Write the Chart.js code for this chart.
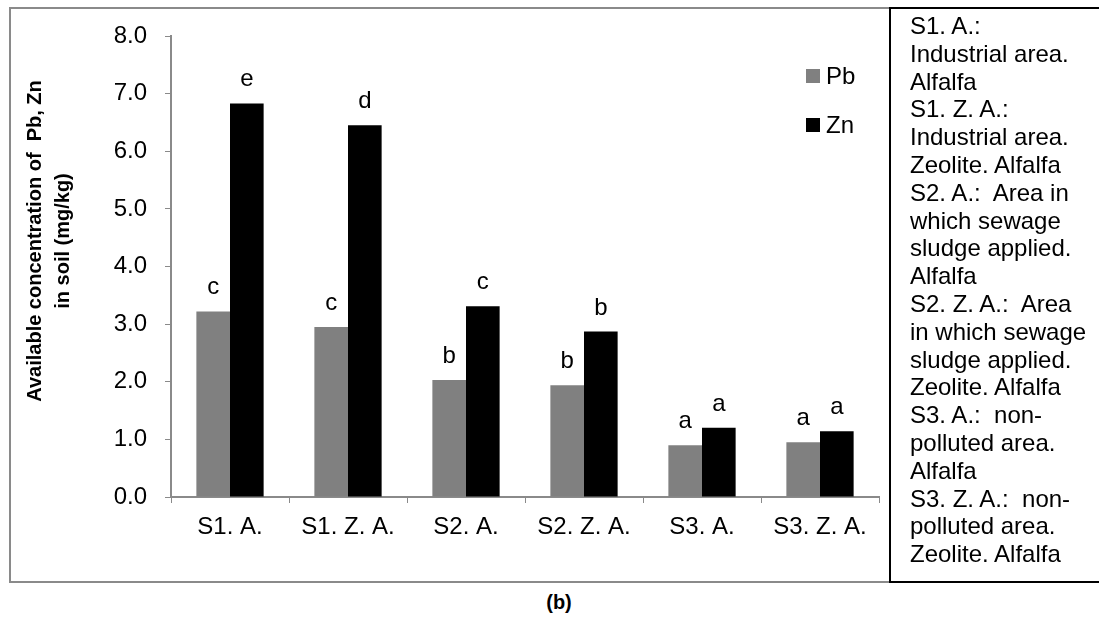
<!DOCTYPE html>
<html>
<head>
<meta charset="utf-8">
<title>Available Pb, Zn in soil</title>
<script src="https://cdn.jsdelivr.net/npm/chart.js@4.4.1/dist/chart.umd.min.js"></script>
<style>
  body { margin: 0; background: #fff; width: 1099px; height: 617px; overflow: hidden; position: relative;
         font-family: "Liberation Sans", Arial, sans-serif; color: #000; }
  #frame { position: absolute; left: 9px; top: 7px; width: 879px; height: 572px;
           border: 2px solid #8a8a8a; border-right: none; }
  #wrap { position: absolute; left: 0; top: 0; width: 890px; height: 583px; }
  #notes { position: absolute; left: 889px; top: 7px; right: 0; height: 576px; box-sizing: border-box;
           border: 2px solid #000; border-right: none; padding: 3px 0 0 19px;
           font-size: 24px; line-height: 27.8px; white-space: nowrap; }
  #cap { position: absolute; left: 559px; top: 592px; transform: translateX(-50%);
         font-size: 20px; line-height: 20px; font-weight: bold; }
</style>
</head>
<body>
<div id="frame"></div>
<div id="wrap"><canvas id="chart" width="890" height="583"></canvas></div>
<div id="notes">
S1. A.:<br>Industrial area.<br>Alfalfa<br>
S1. Z. A.:<br>Industrial area.<br>Zeolite. Alfalfa<br>
S2. A.:&nbsp; Area in<br>which sewage<br>sludge applied.<br>Alfalfa<br>
S2. Z. A.:&nbsp; Area<br>in which sewage<br>sludge applied.<br>Zeolite. Alfalfa<br>
S3. A.:&nbsp; non-<br>polluted area.<br>Alfalfa<br>
S3. Z. A.:&nbsp; non-<br>polluted area.<br>Zeolite. Alfalfa
</div>
<div id="cap">(b)</div>
<script>
  const categories = ["S1. A.", "S1. Z. A.", "S2. A.", "S2. Z. A.", "S3. A.", "S3. Z. A."];
  const pbValues = [3.22, 2.95, 2.03, 1.94, 0.90, 0.95];
  const znValues = [6.83, 6.45, 3.31, 2.87, 1.20, 1.14];
  const pbLetters = ["c", "c", "b", "b", "a", "a"];
  const znLetters = ["e", "d", "c", "b", "a", "a"];
  const yTitle = ["Available concentration of  Pb, Zn", "in soil (mg/kg)"];

  const FONT = '"Liberation Sans", Arial, sans-serif';
  const axisGray = "#8a8a8a";

  // letters over each bar
  const letterPlugin = {
    id: "letters",
    afterDatasetsDraw(chart) {
      const ctx = chart.ctx;
      const letterSets = [pbLetters, znLetters];
      ctx.save();
      ctx.font = "24px " + FONT;
      ctx.fillStyle = "#000";
      ctx.textAlign = "center";
      ctx.textBaseline = "alphabetic";
      chart.data.datasets.forEach((ds, i) => {
        chart.getDatasetMeta(i).data.forEach((bar, j) => {
          ctx.fillText(letterSets[i][j], bar.x, bar.y - 17);
        });
      });
      ctx.restore();
    }
  };

  // legend top right inside plot
  const legendPlugin = {
    id: "sideLegend",
    afterDraw(chart) {
      const ctx = chart.ctx;
      ctx.save();
      ctx.font = "24px " + FONT;
      ctx.textBaseline = "middle";
      chart.data.datasets.forEach((ds, i) => {
        const cy = 76 + i * 49;
        ctx.fillStyle = ds.backgroundColor;
        ctx.fillRect(806, cy - 7, 14, 14);
        ctx.fillStyle = "#000";
        ctx.fillText(ds.label, 826, cy + 1);
      });
      ctx.restore();
    }
  };

  // two-line rotated y title
  const yTitlePlugin = {
    id: "yTitle",
    afterDraw(chart) {
      const ctx = chart.ctx;
      ctx.save();
      ctx.translate(35, 241);
      ctx.rotate(-Math.PI / 2);
      ctx.font = "bold 20px " + FONT;
      ctx.fillStyle = "#000";
      ctx.textAlign = "center";
      ctx.textBaseline = "middle";
      ctx.fillText(yTitle[0], 0, 0);
      ctx.fillText(yTitle[1], 0, 28);
      ctx.restore();
    }
  };

  new Chart(document.getElementById("chart"), {
    type: "bar",
    data: {
      labels: categories,
      datasets: [
        { label: "Pb", data: pbValues, backgroundColor: "#808080" },
        { label: "Zn", data: znValues, backgroundColor: "#000000" }
      ]
    },
    options: {
      responsive: false,
      animation: false,
      layout: { padding: { left: 0, top: 36, right: 11, bottom: 0 } },
      datasets: { bar: { categoryPercentage: 0.57, barPercentage: 1.0 } },
      plugins: { legend: { display: false }, tooltip: { enabled: false } },
      scales: {
        x: {
          grid: { drawOnChartArea: false, drawTicks: true, tickLength: 6, color: axisGray, offset: true },
          border: { color: axisGray, width: 2 },
          ticks: { color: "#000", font: { family: FONT, size: 24 }, padding: 10, maxRotation: 0 },
          afterFit(scale) { scale.height = 86; }
        },
        y: {
          min: 0,
          max: 8,
          grid: { drawOnChartArea: false, drawTicks: true, tickLength: 6, color: axisGray },
          border: { color: axisGray, width: 2 },
          ticks: {
            stepSize: 1,
            color: "#000",
            font: { family: FONT, size: 24 },
            padding: 18,
            callback: v => v.toFixed(1)
          },
          afterFit(scale) { scale.width = 171; }
        }
      }
    },
    plugins: [letterPlugin, legendPlugin, yTitlePlugin]
  });
</script>
</body>
</html>
